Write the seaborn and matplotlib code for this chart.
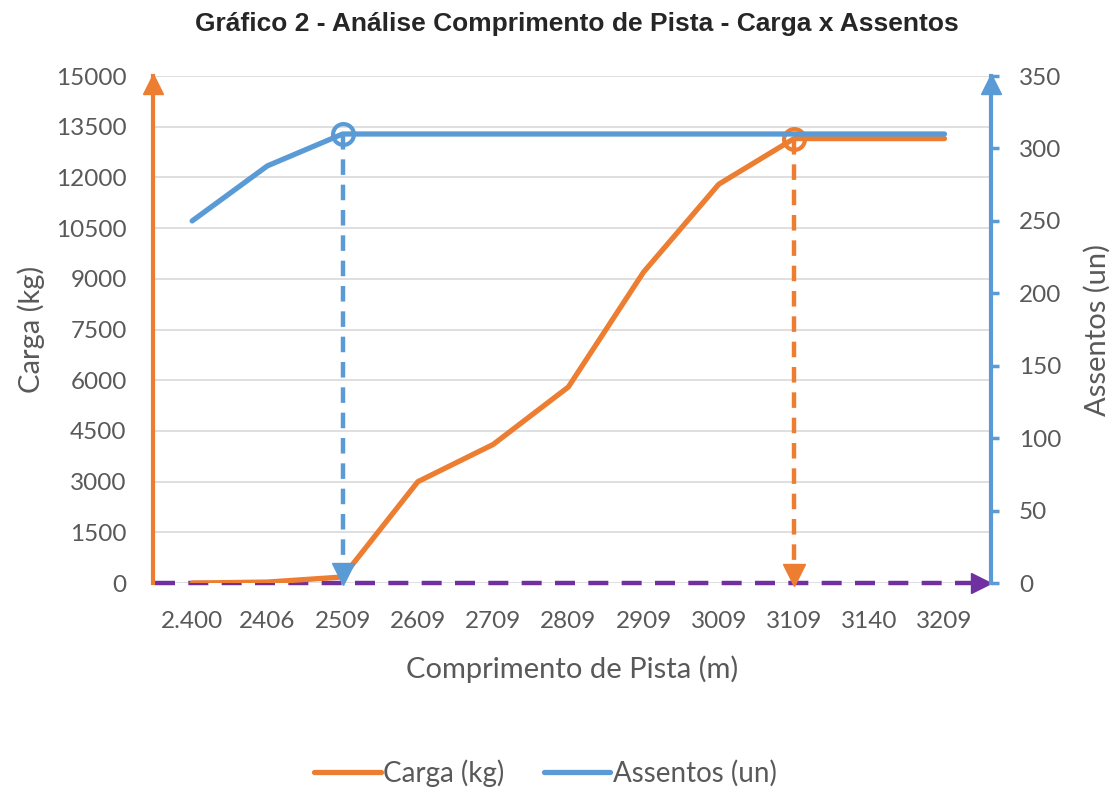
import matplotlib
matplotlib.use("Agg")
import matplotlib.pyplot as plt
import seaborn as sns
import pandas as pd

# data
comprimento = ['2.400', '2406', '2509', '2609', '2709', '2809', '2909', '3009', '3109', '3140', '3209']
carga = [0, 30, 180, 3000, 4100, 5800, 9200, 11800, 13150, 13150, 13150]
assentos = [250, 288, 310, 310, 310, 310, 310, 310, 310, 310, 310]
ponto_assentos = '2509'
ponto_carga = '3109'

df = pd.DataFrame({'Comprimento': comprimento, 'Carga': carga, 'Assentos': assentos})
df['pos'] = range(len(df))

ORANGE = '#ED7D31'
BLUE = '#5B9BD5'
PURPLE = '#7030A0'
GRAY = '#595959'

sns.set_style('white')
plt.rcParams['font.family'] = ['Lato', 'DejaVu Sans']

fig = plt.figure(figsize=(11.13, 7.89), dpi=100)
ax1 = fig.add_axes([0.1375, 0.261, 0.753, 0.6426])
ax2 = ax1.twinx()

sns.lineplot(x='pos', y='Carga', data=df, ax=ax1, color=ORANGE, lw=3.8, zorder=3, label='Carga (kg)', legend=False)
sns.lineplot(x='pos', y='Assentos', data=df, ax=ax2, color=BLUE, lw=3.8, zorder=3, label='Assentos (un)', legend=False)

# highlighted points and dashed arrows down to zero
ia = comprimento.index(ponto_assentos)
ic = comprimento.index(ponto_carga)
ax2.plot([ia, ia], [assentos[ia], 6], color=BLUE, lw=3.2, ls=(0, (3.5, 2.2)), zorder=4)
ax2.plot(ia, 6, marker='v', ms=16, color=BLUE, zorder=5, clip_on=False)
ax2.plot(ia, assentos[ia], marker='o', ms=15, mfc='none', mec=BLUE, mew=3, zorder=5)
ax1.plot([ic, ic], [carga[ic], 250], color=ORANGE, lw=3.2, ls=(0, (3.5, 2.2)), zorder=4)
ax1.plot(ic, 250, marker='v', ms=16, color=ORANGE, zorder=5, clip_on=False)
ax1.plot(ic, carga[ic], marker='o', ms=15, mfc='none', mec=ORANGE, mew=3, zorder=5)

# purple dashed baseline arrow
ax1.plot([-0.5, 10.45], [0, 0], color=PURPLE, lw=3.2, ls=(0, (4.5, 3)), zorder=2, clip_on=False)
ax1.plot(10.49, 0, marker='>', ms=14, color=PURPLE, zorder=2, clip_on=False)

ax1.set_xlim(-0.52, 10.62)
ax1.set_ylim(0, 15000)
ax2.set_ylim(0, 350)
ax1.set_yticks(range(0, 15001, 1500))
ax2.set_yticks(range(0, 351, 50))
ax1.set_xticks(df['pos'])
ax1.set_xticklabels(comprimento)

ax1.grid(axis='y', color='#D9D9D9', lw=1.2)
ax1.grid(axis='x', visible=False)
ax2.grid(False)

for s in ['top', 'bottom', 'right']:
    ax1.spines[s].set_visible(False)
for s in ['top', 'bottom', 'left']:
    ax2.spines[s].set_visible(False)
ax1.spines['left'].set_color(ORANGE)
ax1.spines['left'].set_linewidth(3)
ax2.spines['right'].set_color(BLUE)
ax2.spines['right'].set_linewidth(3)
ax1.plot(0, 0.985, marker='^', ms=14, color=ORANGE, transform=ax1.transAxes, clip_on=False)
ax2.plot(1, 0.985, marker='^', ms=14, color=BLUE, transform=ax2.transAxes, clip_on=False)

ax1.tick_params(axis='y', length=0, pad=19, labelsize=17.5, labelcolor=GRAY)
ax1.tick_params(axis='x', length=0, pad=20, labelsize=17.5, labelcolor=GRAY)
ax2.tick_params(axis='y', length=6, width=2.5, color=BLUE, pad=14, labelsize=17.5, labelcolor=GRAY)

ax1.set_xlabel('Comprimento de Pista (m)', fontsize=21, color=GRAY, labelpad=17)
ax1.set_ylabel('Carga (kg)', fontsize=21, color=GRAY, labelpad=8)
ax2.set_ylabel('Assentos (un)', fontsize=21, color=GRAY, labelpad=16)

fig.suptitle('Gráfico 2 - Análise Comprimento de Pista - Carga x Assentos', x=0.518, y=0.985,
             fontsize=19, fontweight='bold', family=['Liberation Sans', 'DejaVu Sans'])

h1, l1 = ax1.get_legend_handles_labels()
h2, l2 = ax2.get_legend_handles_labels()
fig.legend(h1 + h2, l1 + l2, loc='center', bbox_to_anchor=(0.49, 0.02), ncol=2, frameon=False,
           fontsize=20, labelcolor=GRAY, handlelength=2.4, handletextpad=0.1, columnspacing=1.4)

fig.savefig('out.png', dpi=100)
